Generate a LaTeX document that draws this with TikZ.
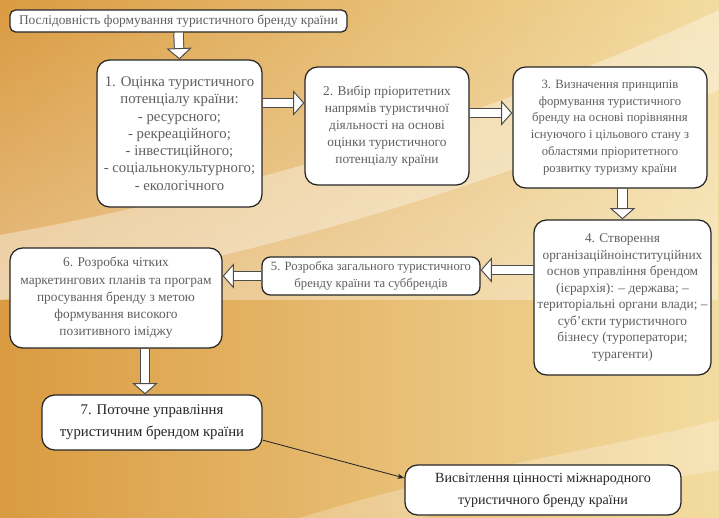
\documentclass[tikz,border=0pt]{standalone}
\usepackage{fontspec}
\setmainfont{Liberation Serif}
\usetikzlibrary{arrows.meta, positioning, calc, fadings}
\definecolor{goldleft}{RGB}{218,155,65}
\definecolor{goldright}{RGB}{243,220,160}
\definecolor{boxtext}{RGB}{95,95,95}
\tikzset{
  stage/.style={draw=black!85, line width=0.9pt, rounded corners=9pt, fill=white, text=boxtext,
    align=center, inner sep=2pt, font=\fontsize{9.5}{12}\selectfont},
  titlebox/.style={stage, rounded corners=4pt},
  bigstage/.style={stage, text=black!85, font=\fontsize{10.5}{15.5}\selectfont},
  fatarr/.style={draw=black!70, double=white, double distance=6pt, line width=0.7pt,
    -{Triangle[length=8pt, width=18pt, fill=white, line width=0.7pt]}},
  thinarr/.style={draw=black!85, line width=0.6pt, -{Stealth[length=5pt]}},
}

\begin{document}
\begin{tikzpicture}[x=0.025cm, y=-0.025cm]
    % background
    \fill[left color=goldleft, right color=goldright] (0,0) rectangle (719,518);
    \fill[white, opacity=0.35, path fading=north] (0,0) rectangle (719,300);
    \fill[white, opacity=0.35] (0,235) .. controls (250,190) and (480,120) .. (719,10)
      -- (719,90) .. controls (480,190) and (250,260) .. (0,300) -- cycle;
    \fill[white, opacity=0.25] (300,518) .. controls (450,470) and (600,450) .. (719,420)
      -- (719,470) .. controls (600,490) and (480,505) .. (420,518) -- cycle;

    \node[titlebox, font=\fontsize{9.5}{10.6}\selectfont, minimum width=8.425cm, minimum height=0.55cm] (top) at (178.5,21)
      {Послідовність формування туристичного бренду країни};
    \node[stage, font=\fontsize{10.5}{12.3}\selectfont, minimum width=4.125cm, minimum height=3.675cm] (b1) at (179.5,133.5)
      {1. Оцінка туристичного\\ потенціалу країни:\\ - ресурсного;\\ - рекреаційного;\\
       - інвестиційного;\\ - соціальнокультурного;\\ - екологічного};
    \node[stage, minimum width=4.1cm, minimum height=2.95cm] (b2) at (387,126)
      {2. Вибір пріоритетних\\ напрямів туристичної\\ діяльності на основі\\
       оцінки туристичного\\ потенціалу країни};
    \node[stage, font=\fontsize{9}{12}\selectfont, minimum width=4.85cm, minimum height=3.025cm] (b3) at (610,127.5)
      {3. Визначення принципів\\ формування туристичного\\ бренду на основі порівняння\\
       існуючого і цільового стану з\\ областями пріоритетного\\ розвитку туризму країни};
    \node[stage, font=\fontsize{9.5}{11.7}\selectfont, minimum width=4.425cm, minimum height=3.875cm] (b4) at (622.5,297.5)
      {4. Створення\\ організаційноінституційних\\ основ управління брендом\\
       (ієрархія): – держава; –\\ територіальні органи влади; –\\ суб’єкти туристичного\\
       бізнесу (туроператори;\\ турагенти)};
    \node[stage, font=\fontsize{9}{12.5}\selectfont, rounded corners=6pt, minimum width=5.45cm, minimum height=0.95cm] (b5) at (371,276)
      {5. Розробка загального туристичного\\ бренду країни та суббрендів};
    \node[stage, font=\fontsize{9.5}{12.3}\selectfont, minimum width=5.3cm, minimum height=2.5cm] (b6) at (116,298)
      {6. Розробка чітких\\ маркетингових планів та програм\\ просування бренду з метою\\
       формування високого\\ позитивного іміджу};
    \node[bigstage, minimum width=5.5cm, minimum height=1.375cm] (b7) at (152,422.5)
      {7. Поточне управління\\ туристичним брендом країни};
    \node[bigstage, font=\fontsize{10}{15.5}\selectfont, minimum width=6.9cm, minimum height=1.25cm] (b8) at (543,490)
      {Висвітлення цінності міжнародного\\ туристичного бренду країни};

    % arrow rows
    \coordinate (r1) at (0,103);
    \coordinate (r2) at (0,113);
    \coordinate (r4) at (0,270);
    \coordinate (c6) at (145,0);

    \draw[fatarr] (top.south) -- (b1.north);
    \draw[fatarr] (b1.east |- r1) -- (b2.west |- r1);
    \draw[fatarr] (b2.east |- r2) -- (b3.west |- r2);
    \draw[fatarr] (b3.south -| b4.north) -- (b4.north);
    \draw[fatarr] (b4.west |- r4) -- (b5.east |- r4);
    \draw[fatarr] (b5.west) -- (b6.east |- b5.west);
    \draw[fatarr] (b6.south -| c6) -- (b7.north -| c6);
    \draw[thinarr] ([yshift=-0.44cm]b7.east) -- ([yshift=0.3cm]b8.west);
\end{tikzpicture}
\end{document}
